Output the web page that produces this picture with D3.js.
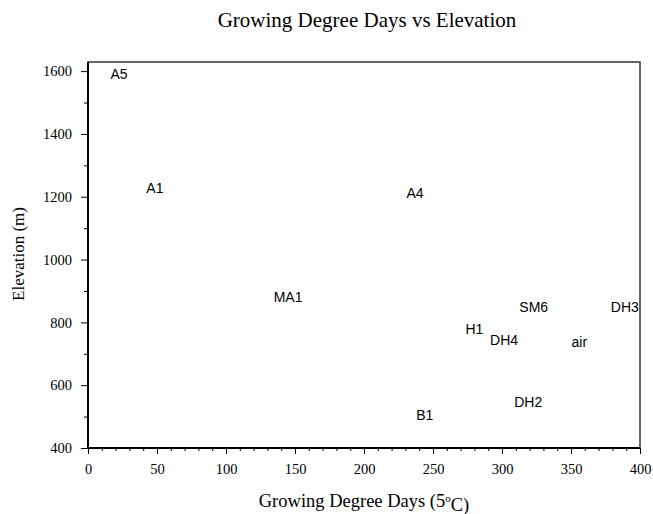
<!DOCTYPE html>
<html>
<head>
<meta charset="utf-8">
<script src="https://cdn.jsdelivr.net/npm/d3@7"></script>
<style>
    body { margin: 0; background: #fff; }
    .tick text { font-family: "Liberation Serif", "Times New Roman", serif; font-size: 14.5px; fill: #000; }
    .site { font-family: "Liberation Sans", Arial, sans-serif; font-size: 14px; fill: #000; }
    .title { font-family: "Liberation Serif", "Times New Roman", serif; font-size: 21px; fill: #000; }
    .label { font-family: "Liberation Serif", "Times New Roman", serif; font-size: 18.5px; fill: #000; }
</style>
</head>
<body>
<div id="chart"></div>
<script>
// margin convention
const svgWidth = 653,
    svgHeight = 514,
    margin = { top: 62, right: 13, bottom: 66, left: 88 },
    width = svgWidth - margin.left - margin.right,
    height = svgHeight - margin.top - margin.bottom;

// data
const sites = ["A5", "A1", "A4", "MA1", "SM6", "DH3", "H1", "DH4", "air", "DH2", "B1"];
const gdd = [22.5, 48.5, 237, 145, 323, 389, 280, 301.5, 356, 319, 244];
const elevation = [1590, 1227, 1211, 880, 848, 848, 778, 743, 738, 546, 505];

const xTicks = [0, 50, 100, 150, 200, 250, 300, 350, 400];
const yTicks = [400, 600, 800, 1000, 1200, 1400, 1600];

let svg = d3.select("#chart").append("svg")
    .attr("width", svgWidth)
    .attr("height", svgHeight);
let plotGroup = svg.append("g")
    .attr("transform", `translate(${margin.left}, ${margin.top})`);

let xScale = d3.scaleLinear()
    .domain([0, 400])
    .range([0, width]);
let yScale = d3.scaleLinear()
    .domain([400, 1629])
    .range([height, 0]);

// minor ticks
plotGroup.append("g")
    .attr("transform", `translate(0, ${height})`)
    .call(d3.axisBottom(xScale).ticks(40).tickSize(3).tickFormat(""))
    .call((g) => g.select(".domain").remove());
plotGroup.append("g")
    .call(d3.axisLeft(yScale).tickValues(d3.range(500, 1600, 200)).tickSize(4).tickFormat(""))
    .call((g) => g.select(".domain").remove());

// major ticks
let xAxis = plotGroup.append("g")
    .attr("transform", `translate(0, ${height})`)
    .call(d3.axisBottom(xScale).tickValues(xTicks).tickSize(6).tickPadding(10).tickFormat(d3.format("d")));
xAxis.select(".domain").remove();
let yAxis = plotGroup.append("g")
    .call(d3.axisLeft(yScale).tickValues(yTicks).tickSize(7).tickPadding(9).tickFormat(d3.format("d")));
yAxis.select(".domain").remove();

svg.selectAll(".tick line").attr("stroke", "#000");

// frame
plotGroup.append("rect")
    .attr("width", width)
    .attr("height", height)
    .attr("fill", "none")
    .attr("stroke", "#333")
    .attr("stroke-width", 1.5);
plotGroup.append("line")
    .attr("x1", 0).attr("x2", 0).attr("y1", 0).attr("y2", height)
    .attr("stroke", "#000").attr("stroke-width", 2);
plotGroup.append("line")
    .attr("x1", 0).attr("x2", width).attr("y1", height).attr("y2", height)
    .attr("stroke", "#000").attr("stroke-width", 2);

// site labels
plotGroup.selectAll("text.site")
    .data(sites)
    .join("text")
    .attr("class", "site")
    .attr("x", (d, i) => xScale(gdd[i]))
    .attr("y", (d, i) => yScale(elevation[i]))
    .attr("dy", "0.36em")
    .attr("text-anchor", "middle")
    .text((d) => d);

// titles
svg.append("text")
    .attr("class", "title")
    .attr("x", 367)
    .attr("y", 27)
    .attr("text-anchor", "middle")
    .text("Growing Degree Days vs Elevation");

let xTitle = svg.append("text")
    .attr("class", "label")
    .attr("x", 364)
    .attr("y", 507)
    .attr("text-anchor", "middle");
xTitle.append("tspan").text("Growing Degree Days (5");
xTitle.append("tspan").attr("dy", "-0.5em").attr("font-size", "11px").text("o");
xTitle.append("tspan").attr("dy", "0.5em").text("C)");

svg.append("text")
    .attr("class", "label")
    .attr("transform", "translate(24, 254) rotate(-90)")
    .attr("text-anchor", "middle")
    .style("font-size", "17px")
    .text("Elevation (m)");
</script>
</body>
</html>
